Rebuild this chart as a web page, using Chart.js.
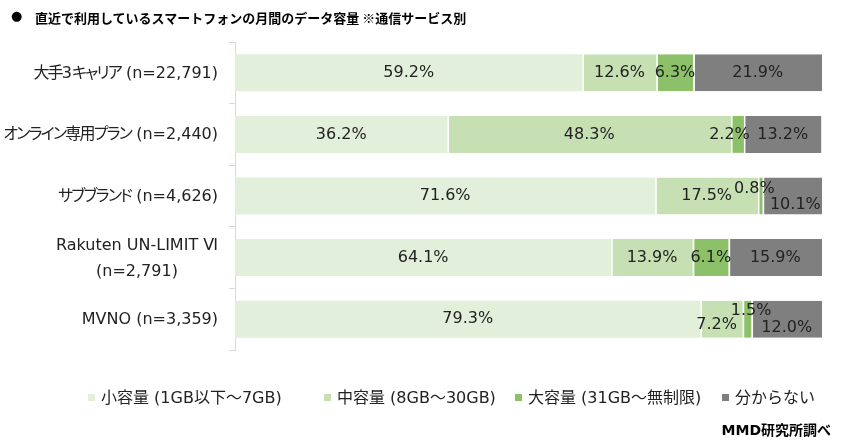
<!DOCTYPE html>
<html>
<head>
<meta charset="utf-8">
<script src="https://cdn.jsdelivr.net/npm/chart.js@4.4.1/dist/chart.umd.min.js"></script>
<style>
    body { margin: 0; background: #fff; }
    #wrap { position: relative; width: 842px; height: 446px; color: #222;
            font-family: "DejaVu Sans", "Noto Sans CJK JP", sans-serif; }
    #chart { position: absolute; left: 0; top: 0; }
    #title { position: absolute; left: 35px; top: 8px; font-size: 13px; font-weight: bold; color: #000;
             font-family: "Noto Sans CJK JP", sans-serif; white-space: nowrap; }
    #bullet { position: absolute; left: 11px; top: 8px; font-size: 13px; color: #000;
              font-family: "DejaVu Sans", sans-serif; }
    .cat { position: absolute; right: 624px; font-size: 16px; line-height: 26px; text-align: center;
           white-space: nowrap; transform: translateY(-50%); font-feature-settings: "palt"; }
    .cat .jp { letter-spacing: -1.8px; }
    .leg { position: absolute; top: 388px; font-size: 16px; white-space: nowrap; line-height: 20px; }
    .leg i { display: inline-block; width: 7px; height: 7px; margin-right: 6px; vertical-align: 2px; }
    #source { position: absolute; right: 11px; top: 419px; font-size: 14px; font-weight: bold; color: #000;
              font-family: "DejaVu Sans", "Noto Sans CJK JP", sans-serif; }
</style>
</head>
<body>
<div id="wrap">
    <canvas id="chart" width="842" height="446"></canvas>
    <div id="bullet">●</div>
    <div id="title">直近で利用しているスマートフォンの月間のデータ容量 ※通信サービス別</div>
    <div id="cats"></div>
    <div id="legend"></div>
    <div id="source">MMD研究所調べ</div>
</div>
<script>
const categories = [
    '大手3キャリア (n=22,791)',
    'オンライン専用プラン (n=2,440)',
    'サブブランド (n=4,626)',
    ['Rakuten UN-LIMIT Ⅵ', '(n=2,791)'],
    'MVNO (n=3,359)'
];
const seriesNames = ['小容量 (1GB以下～7GB)', '中容量 (8GB～30GB)', '大容量 (31GB～無制限)', '分からない'];
const small = [59.2, 36.2, 71.6, 64.1, 79.3];
const medium = [12.6, 48.3, 17.5, 13.9, 7.2];
const large = [6.3, 2.2, 0.8, 6.1, 1.5];
const unknown = [21.9, 13.2, 10.1, 15.9, 12.0];

const colors = ['#E2EFDA', '#C6E0B4', '#8CC16A', '#7F7F7F'];
const FONT = '"DejaVu Sans", "Noto Sans CJK JP", sans-serif';

// nudges for labels that overlap in narrow segments: 'row-dataset': [dx, dy]
const labelShift = { '1-2': [-8, 0], '2-2': [-6, -7], '2-3': [3, 9], '4-1': [-5, 6], '4-2': [4, -8], '4-3': [0, 9] };

const labelsPlugin = {
    id: 'labels',
    afterDatasetsDraw(chart) {
        const ctx = chart.ctx;
        ctx.save();
        ctx.font = '16px ' + FONT;
        ctx.fillStyle = '#222';
        ctx.textAlign = 'center';
        ctx.textBaseline = 'middle';
        chart.data.datasets.forEach((ds, d) => {
            chart.getDatasetMeta(d).data.forEach((bar, i) => {
                const s = labelShift[i + '-' + d] || [0, 0];
                ctx.fillText(ds.data[i].toFixed(1) + '%', (bar.x + bar.base) / 2 + s[0], bar.y + s[1]);
            });
        });
        ctx.restore();
    }
};

const datasets = [small, medium, large, unknown].map((data, d) => ({
    label: seriesNames[d],
    data: data,
    backgroundColor: colors[d],
    borderColor: '#fff',
    borderWidth: { top: 0, right: 0, bottom: 0, left: d === 0 ? 0 : 1.5 },
    borderSkipped: false,
    barPercentage: 0.6,
    categoryPercentage: 1
}));

const chart = new Chart(document.getElementById('chart'), {
    type: 'bar',
    data: { labels: categories, datasets: datasets },
    options: {
        indexAxis: 'y',
        responsive: false,
        animation: false,
        layout: { padding: { left: 229, right: 20, top: 42, bottom: 96 } },
        plugins: { legend: { display: false }, tooltip: { enabled: false } },
        scales: {
            x: { stacked: true, display: false, min: 0, max: 100 },
            y: {
                stacked: true,
                ticks: { display: false },
                grid: { display: true, drawOnChartArea: false, offset: true, tickLength: 6, color: '#D9D9D9' },
                border: { color: '#D9D9D9' },
                afterFit: s => { s.width = 6; }
            }
        }
    },
    plugins: [labelsPlugin]
});

// category labels (html so the kana can be set tighter), placed from the y scale
const cats = document.getElementById('cats');
categories.forEach((lab, i) => {
    const el = document.createElement('div');
    el.className = 'cat';
    el.style.top = chart.scales.y.getPixelForValue(i) + 'px';
    el.innerHTML = (Array.isArray(lab) ? lab : [lab])
        .map(l => l.replace(/[\u3040-\u30ff\u4e00-\u9fff]+/g, m => `<span class="jp">${m}</span>`))
        .join('<br>');
    cats.appendChild(el);
});

// legend
const legendLeft = [88, 324, 515, 722];
const legend = document.getElementById('legend');
seriesNames.forEach((name, d) => {
    const el = document.createElement('div');
    el.className = 'leg';
    el.style.left = legendLeft[d] + 'px';
    el.innerHTML = `<i style="background:${colors[d]}"></i>${name}`;
    legend.appendChild(el);
});
</script>
</body>
</html>
